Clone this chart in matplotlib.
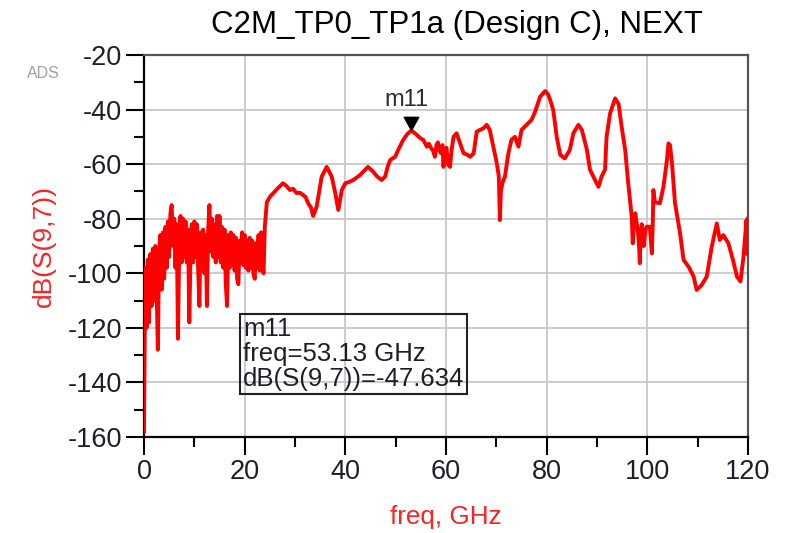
import numpy as np
import matplotlib
matplotlib.use("Agg")
import matplotlib.pyplot as plt
from matplotlib.path import Path
from matplotlib.ticker import MultipleLocator

plt.rcParams['font.family'] = ['Liberation Sans', 'DejaVu Sans']
plt.rcParams['axes.unicode_minus'] = False

# Noisy low-frequency part, sampled every 0.25 GHz from 0 GHz
noisy_step = 0.25
noisy_db = [
    -158, -98, -120, -95, -118, -93, -112, -91, -110, -90, -105, -128,
    -92, -86, -106, -85, -102, -83, -98, -81, -94, -78, -75, -90,
    -80, -98, -82, -124, -90, -79, -96, -80, -94, -81, -96, -84,
    -118, -92, -82, -96, -81, -94, -82, -98, -112, -85, -96, -84,
    -100, -86, -112, -84, -75, -92, -80, -94, -82, -96, -79, -94,
    -79, -96, -83, -98, -84, -104, -112, -86, -98, -85, -97, -86,
    -99, -87, -102, -104, -88, -96, -85, -97, -86, -98, -88, -99,
    -87, -98, -88, -100, -102, -89, -98, -86, -99, -85, -97, -100,
    -83,
]

# Remaining trace (freq in GHz, dB(S(9,7)))
tail_freq = [
    24.4, 25.0, 25.7, 26.5, 27.6, 28.3, 29.0, 29.6, 30.3, 31.0, 31.6, 32.1,
    32.6, 33.2, 33.6, 34.3, 34.8, 35.3, 36.3, 37.3, 38.0, 38.6, 39.3, 40.0,
    40.8, 41.6, 42.9, 43.7, 44.5, 45.5, 46.3, 47.2, 47.9, 48.4, 48.9, 49.9,
    50.5, 51.5, 52.3, 53.13, 53.7, 54.2, 54.9, 55.5, 56.2, 56.6, 57.0, 57.4,
    57.8, 58.1, 58.4, 58.7, 59.0, 59.3, 59.5, 59.8, 60.1, 60.4, 60.8, 61.1,
    61.5, 62.1, 62.8, 63.5, 64.2, 64.8, 65.5, 65.8, 66.1, 66.7, 67.4, 68.1,
    68.7, 69.4, 70.1, 70.5, 70.7, 70.9, 71.2, 71.7, 72.4, 73.0, 73.7, 74.4,
    75.0, 76.0, 77.0, 77.7, 78.7, 79.7, 80.3, 80.7, 81.3, 82.0, 82.7, 83.6,
    84.6, 85.3, 86.3, 87.0, 88.0, 88.6, 89.6, 90.3, 90.9, 91.6, 91.9, 92.6,
    93.6, 94.3, 94.9, 95.6, 96.2, 96.9, 97.1, 97.4, 97.6, 98.0, 98.3, 98.5,
    98.7, 98.9, 99.3, 99.6, 99.9, 100.5, 100.9, 101.1, 101.2, 101.5, 102.5, 103.2,
    103.9, 104.2, 104.5, 104.9, 105.5, 106.5, 107.2, 108.2, 109.2, 109.8, 110.8, 111.8,
    112.8, 113.8, 114.4, 115.1, 116.1, 117.0, 117.8, 118.5, 119.1, 119.4, 119.7, 119.9,
    120.0,
]
tail_db = [
    -74, -72, -70.6, -69, -67, -68, -69.5, -69, -70.6, -70.5, -71.3, -72,
    -74.3, -76, -79, -75.6, -70, -64.6, -61, -64.6, -70.6, -76.8, -69.5, -67,
    -66.5, -65.8, -64, -62.5, -61, -62.7, -64.5, -65.8, -64.6, -61, -58.5, -57.3,
    -54.8, -51.1, -49, -47.634, -48.5, -49.3, -50.5, -51.1, -53.6, -52.5, -54, -55,
    -57.3, -53, -52, -55, -56, -53, -61, -55, -54, -60, -61, -55,
    -50, -48.7, -52.3, -56, -56.5, -57.3, -56, -52, -48.1, -47.5, -46.9, -45.6,
    -47.5, -53.6, -59.7, -64.6, -80.5, -70, -67, -64.6, -56, -51.1, -50, -53.6,
    -47.5, -45.6, -43.8, -40.8, -35.3, -33.2, -34.5, -36.5, -40.1, -50, -56.6, -57.9,
    -54.8, -48.7, -45.6, -47.5, -54.8, -62, -65.8, -68.3, -64.6, -62, -50, -41.4,
    -35.9, -38, -46.3, -54.8, -67, -79.2, -89, -80, -78, -83, -88, -96.3,
    -85, -82, -90, -84, -82.9, -83, -92.7, -80, -69.5, -74, -74.3, -68.3,
    -58.5, -52.4, -53, -59.7, -74.3, -85.3, -95.1, -97.6, -101.2, -106.1, -104.3, -101.2,
    -90.2, -81.7, -87.8, -86, -89, -95, -101.2, -103, -94, -87, -80.5, -93,
    -80,
]

marker_freq = 53.13
marker_db = -47.634
title = "C2M_TP0_TP1a (Design C), NEXT"
x_ticks = [0, 20, 40, 60, 80, 100, 120]
y_ticks = [-160, -140, -120, -100, -80, -60, -40, -20]

freq = np.concatenate([np.arange(len(noisy_db)) * noisy_step, tail_freq])
db = np.concatenate([noisy_db, tail_db])

fig = plt.figure(figsize=(7.9, 5.33), dpi=100)
ax = fig.add_axes([144 / 790, 1 - 437 / 533, (748 - 144) / 790, (437 - 55) / 533])

ax.plot(freq, db, color='#ff0000', lw=2.8, solid_joinstyle='round', zorder=3)

ax.set_xlim(0, 120)
ax.set_ylim(-160, -20)
ax.set_xticks(x_ticks)
ax.set_yticks(y_ticks)
ax.xaxis.set_minor_locator(MultipleLocator(10))
ax.yaxis.set_minor_locator(MultipleLocator(10))
ax.grid(True, which='major', color='#c8c8c8', lw=1.3, zorder=0)

tick_col = '#1e1e2a'
ax.tick_params(axis='both', which='major', length=13, width=1.5, direction='out',
               labelsize=19.5, colors='#000000', labelcolor=tick_col, pad=3)
ax.tick_params(axis='both', which='minor', length=7, width=1.5, direction='out',
               colors='#000000')

for s in ['left', 'bottom']:
    ax.spines[s].set_color('#000000')
    ax.spines[s].set_linewidth(1.6)
for s in ['top', 'right']:
    ax.spines[s].set_color('#555555')
    ax.spines[s].set_linewidth(1.6)

ax.set_xlabel('freq, GHz', color='#ff2020', fontsize=18.8, labelpad=14)
ax.set_ylabel('dB(S(9,7))', color='#ff2020', fontsize=19, labelpad=8)

fig.text(457 / 790, 1 - 25 / 533, title, ha='center', va='center',
         fontsize=22.5, color='#000000')
fig.text(43 / 790, 1 - 73 / 533, 'ADS', ha='center', va='center',
         fontsize=11.5, color='#a0a0a0')

# marker triangle with tip at the data point
tri = Path([(-0.55, 1.0), (0.55, 1.0), (0.0, 0.0), (-0.55, 1.0)],
           [Path.MOVETO, Path.LINETO, Path.LINETO, Path.CLOSEPOLY])
ax.plot([marker_freq], [marker_db], marker=tri, markersize=19, color='#000000',
        linestyle='none', zorder=5)
ax.annotate('m11', xy=(marker_freq, marker_db), xytext=(-5, 30),
            textcoords='offset pixels', ha='center', va='center',
            fontsize=17, color='#2a2a3a', zorder=6)

# marker readout box
box_text = f"m11\nfreq={marker_freq:.2f} GHz\ndB(S(9,7))={marker_db:.3f}"
fig.text(243 / 790, 1 - 354 / 533, box_text, ha='left', va='center',
         fontsize=18.5, color='#1e1e2a', linespacing=1.05,
         bbox=dict(boxstyle='square,pad=0.12', fc='none', ec='#222222', lw=1.5))

fig.savefig('out.png', dpi=100)
